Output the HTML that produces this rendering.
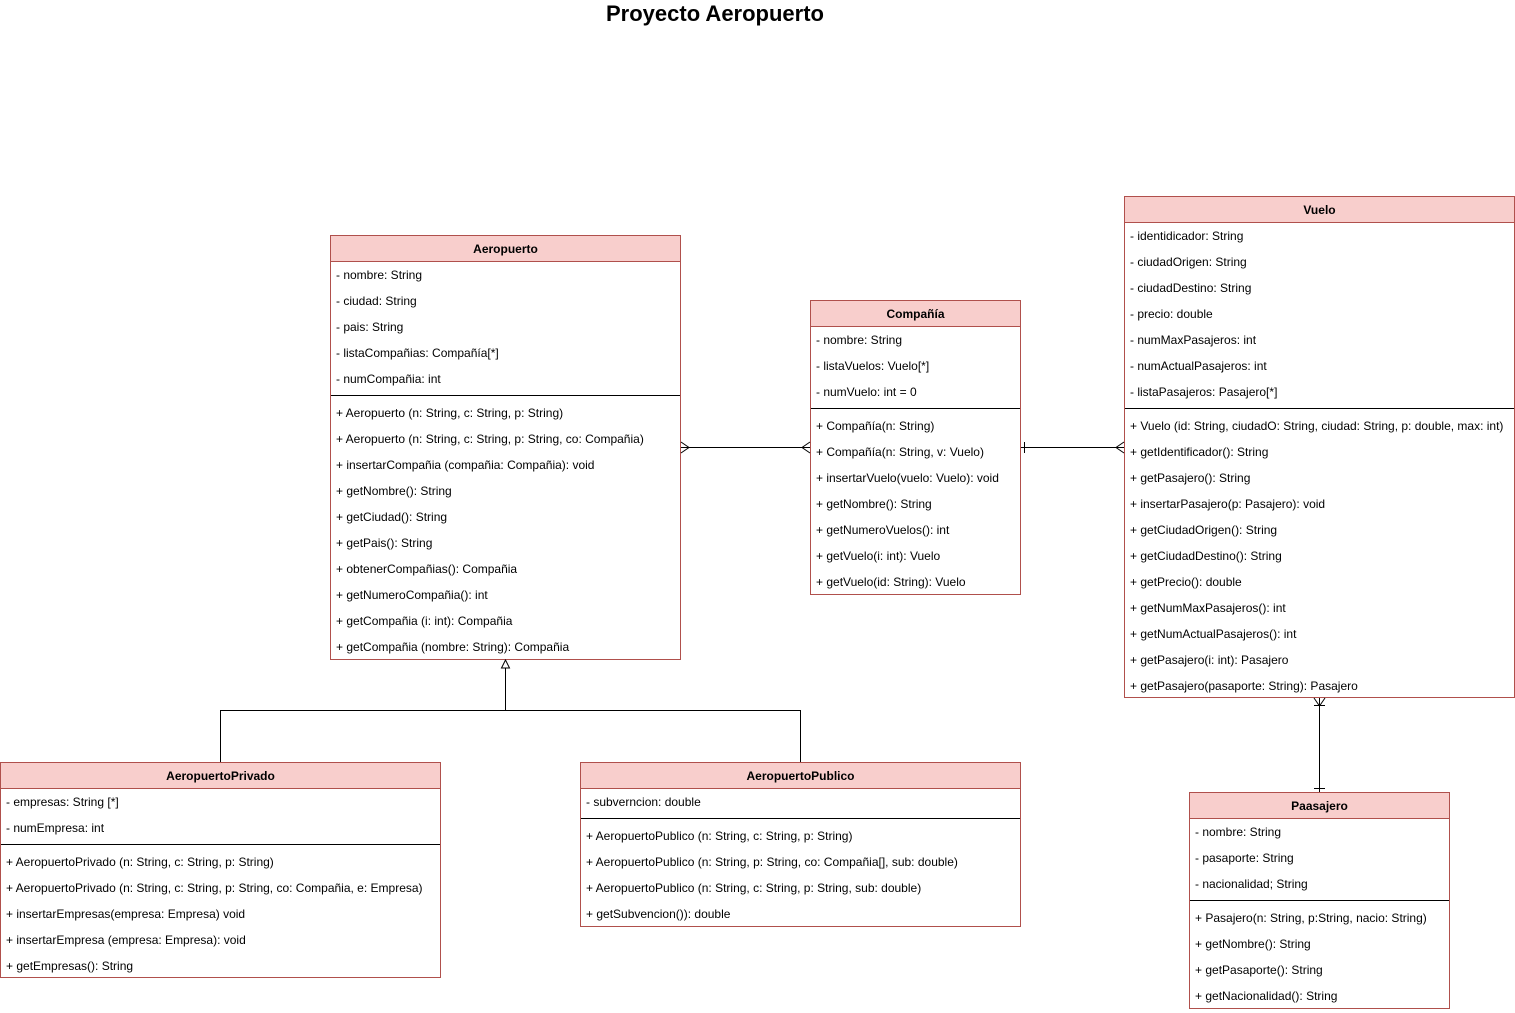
<!DOCTYPE html>
<html><head><meta charset="utf-8"><style>
body{margin:0;width:1515px;height:1013px;background:#fff;position:relative;overflow:hidden;font-family:"Liberation Sans",Arial,sans-serif;font-size:12px;color:#000}
.box{position:absolute;border:1px solid #b0504c;background:#fff;box-sizing:border-box}
.h{background:#f8cecc;height:26px;border-bottom:1px solid #b0504c;box-sizing:border-box;font-weight:bold;text-align:center;line-height:26px}
.r{height:26px;line-height:26px;padding-left:5px;white-space:nowrap}
.d{height:8px;position:relative}.d:after{content:"";position:absolute;left:0;right:0;top:3px;border-top:1px solid #000}
.t{position:absolute;left:0;width:1430px;top:1px;text-align:center;font-weight:bold;font-size:22px}
svg{position:absolute;left:0;top:0}
</style></head><body>
<div class="t">Proyecto Aeropuerto</div>

<div class="box" style="left:330px;top:235px;width:351px;height:425px">
<div class="h">Aeropuerto</div>
<div class="r">- nombre: String</div><div class="r">- ciudad: String</div><div class="r">- pais: String</div><div class="r">- listaCompañias: Compañía[*]</div><div class="r">- numCompañia: int</div>
<div class="d"></div>
<div class="r">+ Aeropuerto (n: String, c: String, p: String)</div>
<div class="r">+ Aeropuerto (n: String, c: String, p: String, co: Compañia)</div>
<div class="r">+ insertarCompañia (compañia: Compañia): void</div>
<div class="r">+ getNombre(): String</div><div class="r">+ getCiudad(): String</div><div class="r">+ getPais(): String</div>
<div class="r">+ obtenerCompañias(): Compañia</div><div class="r">+ getNumeroCompañia(): int</div>
<div class="r">+ getCompañia (i: int): Compañia</div><div class="r">+ getCompañia (nombre: String): Compañia</div>
</div>

<div class="box" style="left:810px;top:300px;width:211px;height:295px">
<div class="h">Compañía</div>
<div class="r">- nombre: String</div><div class="r">- listaVuelos: Vuelo[*]</div><div class="r">- numVuelo: int = 0</div>
<div class="d"></div>
<div class="r">+ Compañía(n: String)</div><div class="r">+ Compañía(n: String, v: Vuelo)</div>
<div class="r">+ insertarVuelo(vuelo: Vuelo): void</div><div class="r">+ getNombre(): String</div>
<div class="r">+ getNumeroVuelos(): int</div><div class="r">+ getVuelo(i: int): Vuelo</div><div class="r">+ getVuelo(id: String): Vuelo</div>
</div>

<div class="box" style="left:1124px;top:196px;width:391px;height:502px">
<div class="h">Vuelo</div>
<div class="r">- identidicador: String</div><div class="r">- ciudadOrigen: String</div><div class="r">- ciudadDestino: String</div>
<div class="r">- precio: double</div><div class="r">- numMaxPasajeros: int</div><div class="r">- numActualPasajeros: int</div><div class="r">- listaPasajeros: Pasajero[*]</div>
<div class="d"></div>
<div class="r">+ Vuelo (id: String, ciudadO: String, ciudad: String, p: double, max: int)</div>
<div class="r">+ getIdentificador(): String</div><div class="r">+ getPasajero(): String</div>
<div class="r">+ insertarPasajero(p: Pasajero): void</div><div class="r">+ getCiudadOrigen(): String</div>
<div class="r">+ getCiudadDestino(): String</div><div class="r">+ getPrecio(): double</div>
<div class="r">+ getNumMaxPasajeros(): int</div><div class="r">+ getNumActualPasajeros(): int</div>
<div class="r">+ getPasajero(i: int): Pasajero</div><div class="r">+ getPasajero(pasaporte: String): Pasajero</div>
</div>

<div class="box" style="left:0px;top:762px;width:441px;height:216px">
<div class="h">AeropuertoPrivado</div>
<div class="r">- empresas: String [*]</div><div class="r">- numEmpresa: int</div>
<div class="d"></div>
<div class="r">+ AeropuertoPrivado (n: String, c: String, p: String)</div>
<div class="r">+ AeropuertoPrivado (n: String, c: String, p: String, co: Compañia, e: Empresa)</div>
<div class="r">+ insertarEmpresas(empresa: Empresa) void</div>
<div class="r">+ insertarEmpresa (empresa: Empresa): void</div>
<div class="r">+ getEmpresas(): String</div>
</div>

<div class="box" style="left:580px;top:762px;width:441px;height:165px">
<div class="h">AeropuertoPublico</div>
<div class="r">- subverncion: double</div>
<div class="d"></div>
<div class="r">+ AeropuertoPublico (n: String, c: String, p: String)</div>
<div class="r">+ AeropuertoPublico (n: String, p: String, co: Compañia[], sub: double)</div>
<div class="r">+ AeropuertoPublico (n: String, c: String, p: String, sub: double)</div>
<div class="r">+ getSubvencion()): double</div>
</div>

<div class="box" style="left:1189px;top:792px;width:261px;height:217px">
<div class="h">Paasajero</div>
<div class="r">- nombre: String</div><div class="r">- pasaporte: String</div><div class="r">- nacionalidad; String</div>
<div class="d"></div>
<div class="r">+ Pasajero(n: String, p:String, nacio: String)</div>
<div class="r">+ getNombre(): String</div><div class="r">+ getPasaporte(): String</div><div class="r">+ getNacionalidad(): String</div>
</div>

<svg width="1515" height="1013" fill="none" stroke="#000" stroke-width="1">
<path d="M505.5 668V710.5M220.5 762V710.5H800.5V762"/>
<path d="M505.5 660L501.5 668H509.5Z" fill="#fff"/>
<path d="M681 447.5H810"/>
<path d="M681 442L689 447.5L681 453M810 442L802 447.5L810 453"/>
<path d="M1021 447.5H1124"/>
<path d="M1024.5 442V453M1124 442L1116 447.5L1124 453"/>
<path d="M1319.5 698V792"/>
<path d="M1314 698L1319.5 706L1325 698M1314 705.5H1325M1314 788.5H1325"/>
</svg>
</body></html>
